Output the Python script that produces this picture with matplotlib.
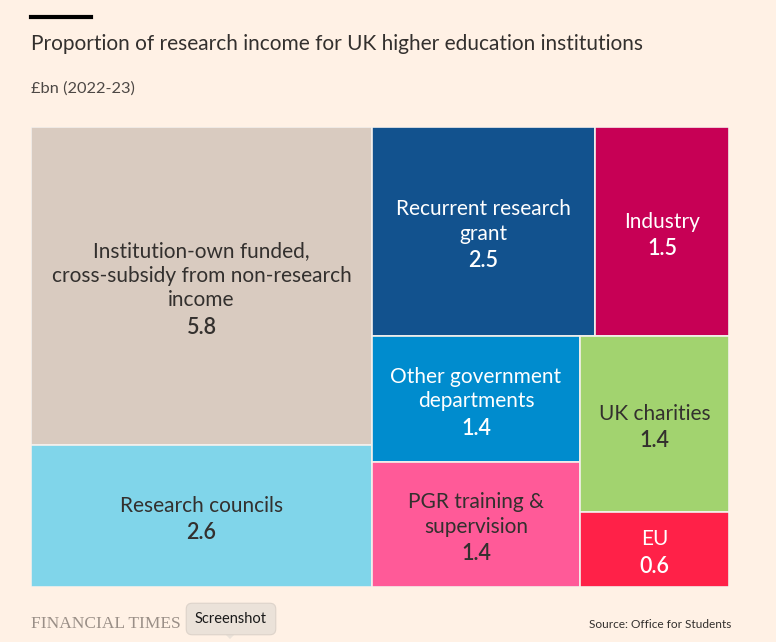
import matplotlib.pyplot as plt
from matplotlib.patches import Rectangle, Polygon
from matplotlib.lines import Line2D

# data
labels = [
    "Institution-own funded,\ncross-subsidy from non-research\nincome",
    "Research councils",
    "Recurrent research\ngrant",
    "Industry",
    "Other government\ndepartments",
    "PGR training &\nsupervision",
    "UK charities",
    "EU",
]
values = [5.8, 2.6, 2.5, 1.5, 1.4, 1.4, 1.4, 0.6]
colors = ["#d9cbc0", "#80d5ea", "#12528e", "#c70055",
          "#008cce", "#ff5a98", "#a2d36f", "#ff2148"]
text_colors = ["#33302e", "#33302e", "white", "white",
               "white", "#33302e", "#33302e", "white"]
# nesting of the slice-and-dice layout (indices into the lists above)
groups = [[0, 1], [[2, 3], [[4, 5], [6, 7]]]]

FONT = "Lato"
plt.rcParams['font.family'] = [FONT, 'DejaVu Sans']
BG = "#fff1e5"


def total(node):
    if isinstance(node, int):
        return values[node]
    return sum(total(n) for n in node)


def layout(node, x, y, w, h, depth, out):
    if isinstance(node, int):
        out[node] = (x, y, w, h)
        return
    s = total(node)
    pos = 0.0
    for child in node:
        frac = total(child) / s
        if depth % 2 == 0:
            layout(child, x + pos * w, y, frac * w, h, depth + 1, out)
        else:
            # top to bottom
            layout(child, x, y + h - (pos + frac) * h, w, frac * h, depth + 1, out)
        pos += frac


rects = {}
layout(groups, 0, 0, 1, 1, 0, rects)

W, H = 776, 642
fig = plt.figure(figsize=(W / 100, H / 100), dpi=100)
fig.patch.set_facecolor(BG)
ax = fig.add_axes([31 / W, (H - 587) / H, 698 / W, 460 / H])
ax.set_xlim(0, 1)
ax.set_ylim(0, 1)
ax.axis("off")

px = 0.72  # points per pixel
for i in range(len(values)):
    x, y, w, h = rects[i]
    ax.add_patch(Rectangle((x, y), w, h, facecolor=colors[i],
                           edgecolor="#f4f0ec", lw=1.2))
    cx, cy = x + w / 2, y + h / 2
    lines = labels[i].split("\n")
    n = len(lines)
    step, gap = 24.5, 27
    span = (n - 1) * step + gap
    top = span / 2 - 3.5
    for j, line in enumerate(lines):
        ax.annotate(line, (cx, cy), xytext=(0, (top - j * step) * px),
                    textcoords="offset points", ha="center", va="center",
                    fontsize=15, color=text_colors[i])
    ax.annotate(f"{values[i]:.1f}", (cx, cy), xytext=(0, (top - span) * px),
                textcoords="offset points", ha="center", va="center",
                fontsize=15.5, fontweight="semibold", color=text_colors[i])

# header
fig.add_artist(Line2D([31 / W, 91 / W], [1 - 16.5 / H, 1 - 16.5 / H],
                      color="black", lw=3))
fig.text(31 / W, 1 - 44 / H, "Proportion of research income for UK higher education institutions",
         fontsize=15, color="#33302e", va="center")
fig.text(31 / W, 1 - 89 / H, "£bn (2022-23)", fontsize=11.8,
         color="#4d4845", va="center")

# footer
fig.text(31 / W, 1 - 624 / H, "FINANCIAL TIMES", fontsize=12.5,
         family=["Liberation Serif"], color="#9a8f87", va="center")
fig.add_artist(Polygon([[222 / W, 1 - 631 / H], [238 / W, 1 - 631 / H],
                        [230 / W, 1 - 639 / H]], closed=True,
                       facecolor="#ebe2d9", edgecolor="none"))
fig.text(231 / W, 1 - 619 / H, "Screenshot", fontsize=10.5, color="#1a1a1a",
         ha="center", va="center",
         bbox=dict(boxstyle="round,pad=0.6,rounding_size=0.4", fc="#ebe2d9",
                   ec="#ddd3ca", lw=0.8))
fig.text(731 / W, 1 - 625 / H, "Source: Office for Students", fontsize=8.6,
         color="#33302e", ha="right", va="center")

fig.savefig("out.png", dpi=100, facecolor=BG)
